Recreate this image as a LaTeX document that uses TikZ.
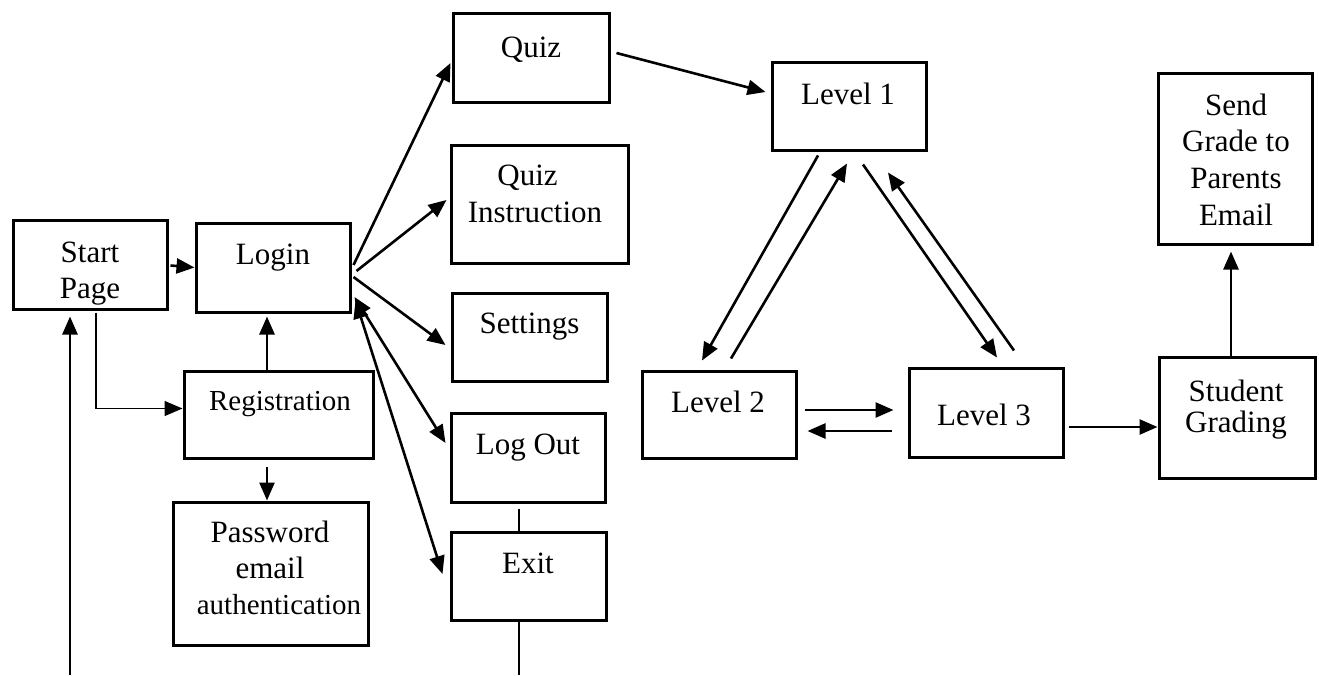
\documentclass[tikz,border=0pt]{standalone}
\usepackage{fontspec}
\setmainfont{Liberation Serif}
\usetikzlibrary{arrows.meta,calc}
\begin{document}
\begin{tikzpicture}[x=1pt,y=-1pt,
  box/.style={draw,line width=3pt,inner sep=0pt,rectangle},
  lbl/.style={inner sep=0pt,align=center,anchor=north,font=\fontsize{31}{36}\selectfont},
  conn/.style={line width=2.6pt,-{Triangle[length=18pt,width=15pt]}},
  bconn/.style={line width=2.6pt,{Triangle[length=18pt,width=15pt]}-{Triangle[length=18pt,width=15pt]}},
  thin/.style={line width=1.4pt}]
\useasboundingbox (0,0) rectangle (1319,675);
% boxes
\node[box,minimum width=154pt,minimum height=89pt] (start) at (90,264.5) {};
\node[box,minimum width=154pt,minimum height=89pt] (login) at (273,267.5) {};
\node[box,minimum width=189pt,minimum height=87pt] (reg) at (278.5,414.5) {};
\node[box,minimum width=195pt,minimum height=143pt] (pw) at (270.5,573.5) {};
\node[box,minimum width=156pt,minimum height=89pt] (quiz) at (531,57.5) {};
\node[box,minimum width=177pt,minimum height=118pt] (qi) at (539.5,204) {};
\node[box,minimum width=155pt,minimum height=88pt] (settings) at (529.5,337) {};
\node[box,minimum width=154pt,minimum height=89pt] (logout) at (528,457.5) {};
\node[box,minimum width=155pt,minimum height=88pt] (exit) at (528.5,576) {};
\node[box,minimum width=154pt,minimum height=88pt] (l1) at (849,106) {};
\node[box,minimum width=154pt,minimum height=87pt] (l2) at (719,414.5) {};
\node[box,minimum width=154pt,minimum height=89pt] (l3) at (986,412.5) {};
\node[box,minimum width=154pt,minimum height=171pt] (send) at (1235,158.5) {};
\node[box,minimum width=156pt,minimum height=121pt] (student) at (1237,417.5) {};
% labels
\node[lbl] (tstart) at (90,236.8) {\strut Start\\Page};
\node[lbl] (tlogin) at (273,238.8) {\strut Login};
\node[lbl,font=\fontsize{29}{36}\selectfont] (treg) at (280,384.8) {\strut Registration};
\node[lbl] (tpw) at (270,516.8) {\strut Password\\email\\{\fontsize{29}{36}\selectfont\hspace*{18pt}authentication}};
\node[lbl] (tquiz) at (531,31.8) {\strut Quiz};
\node[lbl,font=\fontsize{31}{37}\selectfont] (tqi) at (535,159.1) {\strut Quiz\hspace*{15pt}\\Instruction};
\node[lbl] (tsettings) at (529.5,307.8) {\strut Settings};
\node[lbl] (tlogout) at (528,428.8) {\strut Log Out};
\node[lbl] (texit) at (528,547.8) {\strut Exit};
\node[lbl] (tl1) at (848,78.8) {\strut Level 1};
\node[lbl] (tl2) at (718,386.8) {\strut Level 2};
\node[lbl] (tl3) at (984,399.8) {\strut Level 3};
\node[lbl,font=\fontsize{31}{36.7}\selectfont] (tsend) at (1236,89.3) {\strut Send\\Grade to\\Parents\\Email};
\node[lbl,font=\fontsize{31}{31}\selectfont] (tstudent) at (1236,379.3) {\strut Student\\Grading};
% free ends
\coordinate (bottomL) at (70,675);
\coordinate (bottomE) at (519,675);
% connectors
\draw[conn] ($(start.east)+(2,1)$) -- (login.west);
\draw[conn] ($(reg.north)+(-11.5,0)$) -- ($(login.south)+(-6,3)$);
\draw[thin,-{Triangle[length=18pt,width=15pt]}] ($(start.south)+(6,2)$) |- ($(reg.west)+(0,-6)$);
\draw[conn] ($(reg.south)+(-11.5,7)$) -- ($(pw.north)+(-3.5,0)$);
\draw[conn] (bottomL) -- ($(start.south)+(-20,6)$);
\draw[conn] ($(login.east)+(2,-2.5)$) -- ($(quiz.west)+(-1,5.5)$);
\draw[conn] ($(login.east)+(5,3.5)$) -- ($(qi.west)+(-3,-4)$);
\draw[conn] ($(login.east)+(2,9.5)$) -- ($(settings.west)+(-5,8)$);
\draw[bconn] ($(login.east)+(3,29.5)$) -- ($(logout.west)+(-4,-14.5)$);
\draw[bconn] ($(login.east)+(4,33)$) -- ($(exit.west)+(-7,-2)$);
\draw[thin] ($(logout.south)+(-9,5)$) -- ($(exit.north)+(-9.5,0)$);
\draw[thin] ($(exit.south)+(-9.5,0)$) -- (bottomE);
\draw[conn] ($(quiz.east)+(6,-4.5)$) -- ($(l1.west)+(-5,-14)$);
\draw[conn] ($(l1.south)+(-31,4)$) -- ($(l2.north)+(-17,-9)$);
\draw[conn] ($(l2.north)+(12,-11)$) -- ($(l1.south)+(-2,12)$);
\draw[conn] ($(l1.south)+(14,13)$) -- ($(l3.north)+(11,-9)$);
\draw[conn] ($(l3.north)+(28,-16)$) -- ($(l1.south)+(39,21)$);
\draw[conn] ($(l2.east)+(7,-4.5)$) -- ($(l3.west)+(-14,-2.5)$);
\draw[conn] ($(l3.west)+(-16,18.5)$) -- ($(l2.east)+(10,16.5)$);
\draw[conn] ($(l3.east)+(4,14.5)$) -- ($(student.west)+(0,9.5)$);
\draw[conn] ($(student.north)+(-6,0)$) -- ($(send.south)+(-4,6)$);
\end{tikzpicture}
\end{document}
